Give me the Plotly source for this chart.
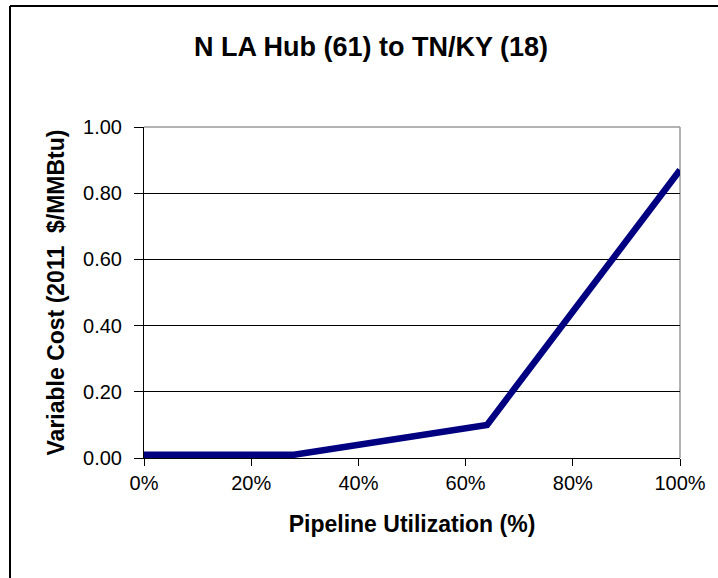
import plotly.graph_objects as go

utilization = [0.0, 0.28, 0.64, 1.0]
variable_cost = [0.01, 0.01, 0.10, 0.87]
title_text = "N LA Hub (61) to TN/KY (18)"
x_title = "Pipeline Utilization (%)"
y_title = "Variable Cost (2011  $/MMBtu)"
tick_vals = [0, 0.2, 0.4, 0.6, 0.8, 1.0]

W, H = 718, 578
L, R, T, B = 144, 34, 127, 120
pw, ph = W - L - R, H - T - B

fig = go.Figure()
fig.add_trace(go.Scatter(x=utilization, y=variable_cost, mode="lines",
                         line=dict(color="#000080", width=6.5), showlegend=False,
                         cliponaxis=False))

font = "Liberation Sans, Arial, sans-serif"
fig.update_layout(
    width=W, height=H,
    margin=dict(l=L, r=R, t=T, b=B),
    paper_bgcolor="white", plot_bgcolor="white",
    font=dict(family=font, color="black", size=20),
    title=dict(text="<b>" + title_text + "</b>", x=371 / W, xanchor="center",
               y=1 - 47 / H, yanchor="middle", font=dict(size=27)),
    xaxis=dict(range=[0, 1], tickvals=tick_vals, tickformat=".0%",
               showgrid=False, zeroline=False, showline=True, linecolor="black", linewidth=1,
               ticks="outside", ticklen=7, tickcolor="black", tickfont=dict(size=20),
               title=dict(text="<b>" + x_title + "</b>", standoff=22, font=dict(size=23))),
    yaxis=dict(range=[0, 1], tickvals=tick_vals, tickformat=".2f",
               showgrid=True, gridcolor="black", gridwidth=1, zeroline=False,
               showline=True, linecolor="black", linewidth=1,
               ticks="outside", ticklen=9, tickcolor="black", tickfont=dict(size=20),
               ticklabelstandoff=8,
               title=dict(text="<b>" + y_title + "</b>", standoff=12, font=dict(size=23))),
)

# gray frame on top and right of the plot area
fig.add_shape(type="line", xref="paper", yref="paper", x0=0, x1=1, y0=1, y1=1,
              line=dict(color="#999999", width=1.5), layer="below")
fig.add_shape(type="line", xref="paper", yref="paper", x0=1, x1=1, y0=0, y1=1,
              line=dict(color="#999999", width=1.5), layer="below")

def px_x(p):
    return (p - L) / pw

def px_y(p):
    return (H - B - p) / ph

# outer chart border (left and top visible)
fig.add_shape(type="line", xref="paper", yref="paper", x0=px_x(9), x1=px_x(9),
              y0=px_y(H + 5), y1=px_y(6), line=dict(color="black", width=2))
fig.add_shape(type="line", xref="paper", yref="paper", x0=px_x(9), x1=px_x(W + 5),
              y0=px_y(6), y1=px_y(6), line=dict(color="black", width=2))

fig.write_html("out.html", config={"displayModeBar": False},
               post_script="document.body.style.margin='0';document.body.style.overflow='hidden';")
